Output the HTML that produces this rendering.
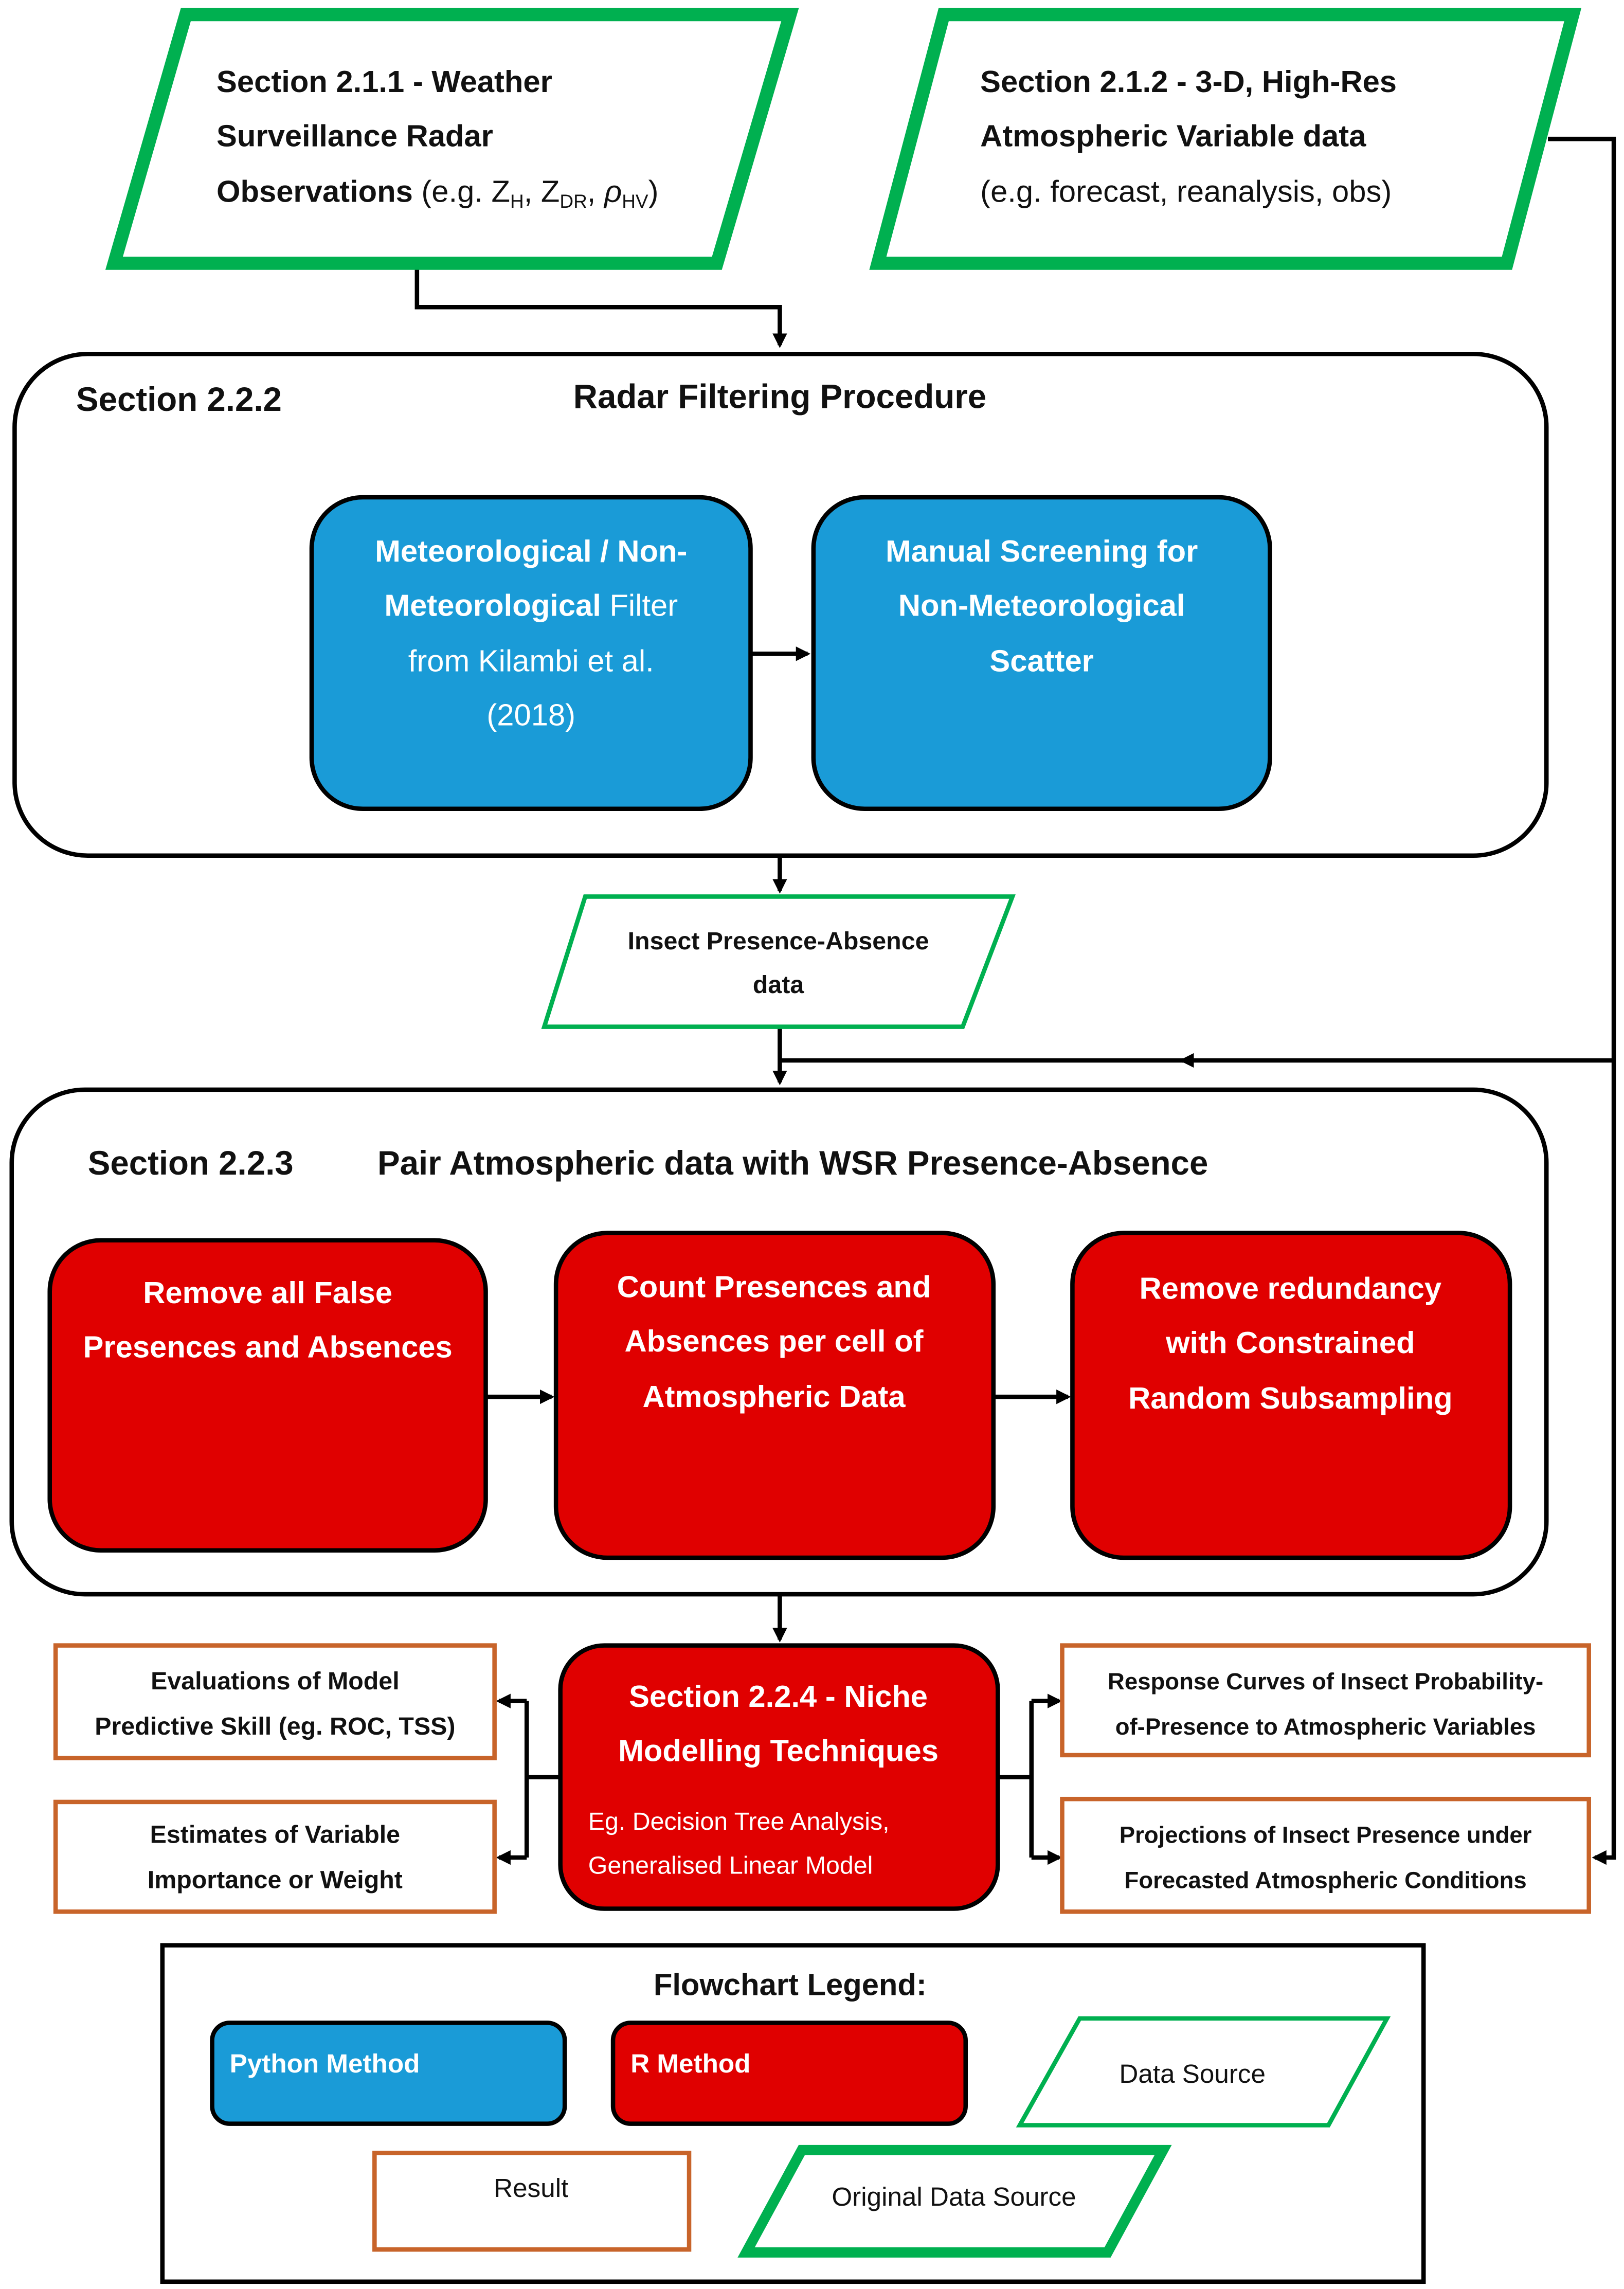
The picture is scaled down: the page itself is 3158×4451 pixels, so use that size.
<!DOCTYPE html>
<html><head><style>html,body{margin:0;padding:0;background:#fff}svg{display:block}</style></head><body>
<svg xmlns="http://www.w3.org/2000/svg" width="3158" height="4451" viewBox="0 0 1110 1565" preserveAspectRatio="none" font-family="'Liberation Sans', sans-serif">
<defs><marker id="a" markerWidth="10" markerHeight="10" refX="8" refY="5" orient="auto" markerUnits="userSpaceOnUse"><path d="M0,0 L10,5 L0,10 z" fill="#000"/></marker></defs>
<g fill="none" stroke="#000" stroke-width="3">
<polyline points="285,182 285,210 533,210 533,236" marker-end="url(#a)"/>
<polyline points="1058,95 1103,95 1103,1270 1090,1270" marker-end="url(#a)"/>
<line x1="1103" y1="725" x2="808" y2="725" marker-end="url(#a)"/>
<polyline points="810,725 533,725"/>
<line x1="533" y1="702" x2="533" y2="740" marker-end="url(#a)"/>
<line x1="533" y1="585" x2="533" y2="609" marker-end="url(#a)"/>
<line x1="513" y1="447" x2="552" y2="447" marker-end="url(#a)"/>
<line x1="332" y1="955" x2="377" y2="955" marker-end="url(#a)"/>
<line x1="679" y1="955" x2="730" y2="955" marker-end="url(#a)"/>
<line x1="533" y1="1090" x2="533" y2="1121" marker-end="url(#a)"/>
<polyline points="383,1215 360,1215"/>
<polyline points="360,1163 360,1270"/>
<line x1="360" y1="1163" x2="341" y2="1163" marker-end="url(#a)"/>
<line x1="360" y1="1270" x2="341" y2="1270" marker-end="url(#a)"/>
<polyline points="682,1215 705,1215"/>
<polyline points="705,1163 705,1270"/>
<line x1="705" y1="1163" x2="724" y2="1163" marker-end="url(#a)"/>
<line x1="705" y1="1270" x2="724" y2="1270" marker-end="url(#a)"/>
<rect x="10" y="242" width="1047" height="343" rx="50"/>
<rect x="8" y="745" width="1049" height="345" rx="50"/>
<rect x="111" y="1330" width="862" height="230"/>
</g>
<g fill="#fff" stroke="#00b050" stroke-width="9" stroke-linejoin="miter">
<polygon points="127,10 540,10 490,180 78,180"/>
<polygon points="645,10 1075,10 1030,180 600,180"/>
<polygon points="548,1470 795,1470 757,1540 510,1540" stroke-width="7"/>
</g>
<g fill="#fff" stroke="#00b050" stroke-width="3">
<polygon points="400,613 692,613 658,702 372,702"/>
<polygon points="738,1380 948,1380 908,1453 697,1453"/>
</g>
<g stroke="#000" stroke-width="3">
<rect x="213" y="340" width="300" height="213" rx="35" fill="#1a9bd7"/>
<rect x="556" y="340" width="312" height="213" rx="35" fill="#1a9bd7"/>
<rect x="34" y="848" width="298" height="212" rx="35" fill="#e00000"/>
<rect x="380" y="843" width="299" height="222" rx="35" fill="#e00000"/>
<rect x="733" y="843" width="299" height="222" rx="35" fill="#e00000"/>
<rect x="383" y="1125" width="299" height="180" rx="30" fill="#e00000"/>
<rect x="145" y="1383" width="241" height="69" rx="12" fill="#1a9bd7"/>
<rect x="419" y="1383" width="241" height="69" rx="12" fill="#e00000"/>
</g>
<g fill="#fff" stroke="#c8642a" stroke-width="3">
<rect x="38" y="1125" width="300" height="77"/>
<rect x="38" y="1232" width="300" height="75"/>
<rect x="726" y="1125" width="360" height="75"/>
<rect x="726" y="1230" width="360" height="77"/>
<rect x="256" y="1472" width="215" height="66"/>
</g>
<g fill="#111" font-size="21" font-weight="bold">
<text x="148" y="63">Section 2.1.1 - Weather</text>
<text x="148" y="100">Surveillance Radar</text>
<text x="148" y="138">Observations <tspan font-weight="normal">(e.g. Z<tspan font-size="13" dy="4">H</tspan><tspan dy="-4">, Z</tspan><tspan font-size="13" dy="4">DR</tspan><tspan dy="-4">, </tspan><tspan font-style="italic">ρ</tspan><tspan font-size="13" dy="4">HV</tspan><tspan dy="-4">)</tspan></tspan></text>
<text x="670" y="63">Section 2.1.2 - 3-D, High-Res</text>
<text x="670" y="100">Atmospheric Variable data</text>
<text x="670" y="138" font-weight="normal">(e.g. forecast, reanalysis, obs)</text>
<text x="52" y="281" font-size="23">Section 2.2.2</text>
<text x="533" y="279" font-size="23" text-anchor="middle">Radar Filtering Procedure</text>
<text x="60" y="803" font-size="23">Section 2.2.3</text>
<text x="258" y="803" font-size="23">Pair Atmospheric data with WSR Presence-Absence</text>
<text x="532" y="649" font-size="17" text-anchor="middle">Insect Presence-Absence</text>
<text x="532" y="679" font-size="17" text-anchor="middle">data</text>
<text x="540" y="1364" text-anchor="middle">Flowchart Legend:</text>
</g>
<g fill="#fff" font-size="21" font-weight="bold" text-anchor="middle">
<text x="363" y="384">Meteorological / Non-</text>
<text x="363" y="421">Meteorological <tspan font-weight="normal">Filter</tspan></text>
<text x="363" y="459" font-weight="normal">from Kilambi et al.</text>
<text x="363" y="496" font-weight="normal">(2018)</text>
<text x="712" y="384">Manual Screening for</text>
<text x="712" y="421">Non-Meteorological</text>
<text x="712" y="459">Scatter</text>
<text x="183" y="891">Remove all False</text>
<text x="183" y="928">Presences and Absences</text>
<text x="529" y="887">Count Presences and</text>
<text x="529" y="924">Absences per cell of</text>
<text x="529" y="962">Atmospheric Data</text>
<text x="882" y="888">Remove redundancy</text>
<text x="882" y="925">with Constrained</text>
<text x="882" y="963">Random Subsampling</text>
<text x="532" y="1167">Section 2.2.4 - Niche</text>
<text x="532" y="1204">Modelling Techniques</text>
<text x="402" y="1251" font-size="17" font-weight="normal" text-anchor="start">Eg. Decision Tree Analysis,</text>
<text x="402" y="1281" font-size="17" font-weight="normal" text-anchor="start">Generalised Linear Model</text>
<text x="157" y="1417" font-size="18" text-anchor="start">Python Method</text>
<text x="431" y="1417" font-size="18" text-anchor="start">R Method</text>
</g>
<g fill="#111" font-size="17" font-weight="bold" text-anchor="middle">
<text x="188" y="1155">Evaluations of Model</text>
<text x="188" y="1186">Predictive Skill (eg. ROC, TSS)</text>
<text x="188" y="1260">Estimates of Variable</text>
<text x="188" y="1291">Importance or Weight</text>
<text x="906" y="1155" font-size="16">Response Curves of Insect Probability-</text>
<text x="906" y="1186" font-size="16">of-Presence to Atmospheric Variables</text>
<text x="906" y="1260" font-size="16">Projections of Insect Presence under</text>
<text x="906" y="1291" font-size="16">Forecasted Atmospheric Conditions</text>
<text x="815" y="1424" font-weight="normal" font-size="18">Data Source</text>
<text x="363" y="1502" font-weight="normal" font-size="18">Result</text>
<text x="652" y="1508" font-weight="normal" font-size="18">Original Data Source</text>
</g>
</svg>
</body></html>
